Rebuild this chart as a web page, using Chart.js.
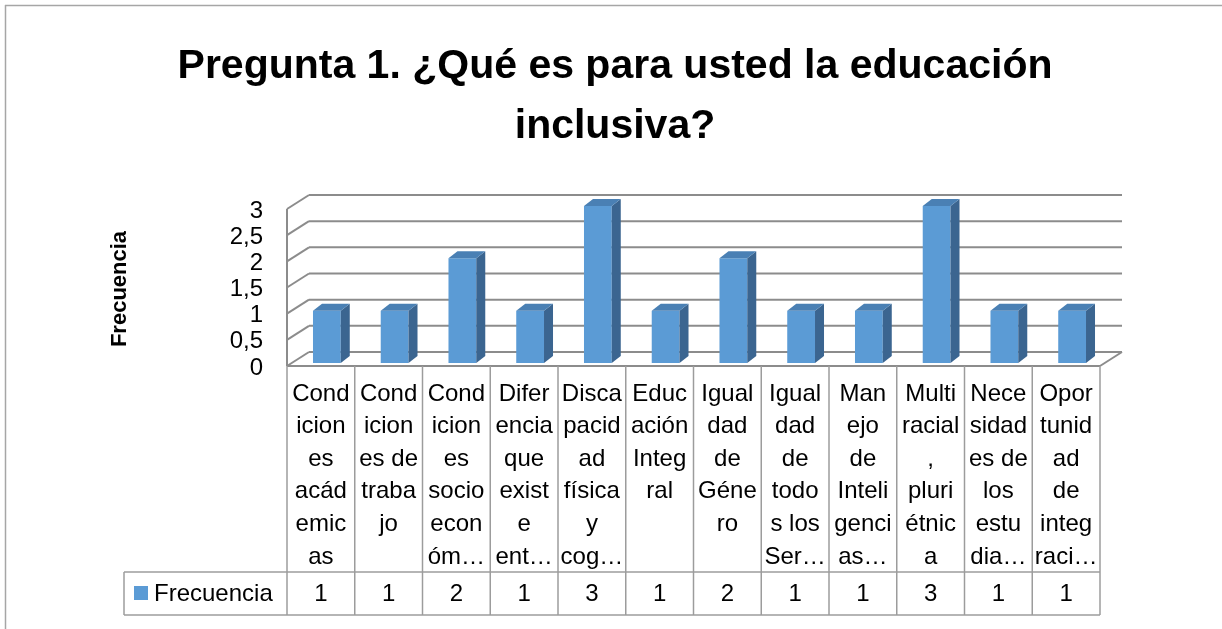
<!DOCTYPE html>
<html>
<head>
<meta charset="utf-8">
<script src="https://cdn.jsdelivr.net/npm/chart.js@4.4.1/dist/chart.umd.min.js"></script>
<style>
  html, body { margin: 0; padding: 0; background: #fff; }
  #wrap { width: 1222px; height: 629px; position: relative; }
</style>
</head>
<body>
<div id="wrap"><canvas id="chart" width="1222" height="629"></canvas></div>
<script>
// --- Data ---
const titleLines = ['Pregunta 1. ¿Qué es para usted la educación', 'inclusiva?'];
const seriesName = 'Frecuencia';
const yAxisTitle = 'Frecuencia';
const categories = [
    'Condiciones acádemicas', 'Condiciones de trabajo', 'Condiciones socioeconóm…',
    'Diferencia que existe ent…', 'Discapacidad física y cog…', 'Educación Integral',
    'Igualdad de Género', 'Igualdad de todos los Ser…', 'Manejo de Inteligencias…',
    'Multiracial, pluriétnica', 'Necesidades de los estudia…', 'Oportunidad de integraci…'
];
// wrapped tick labels as shown in the data table
const categoryLines = [
    ['Cond', 'icion', 'es', 'acád', 'emic', 'as'],
    ['Cond', 'icion', 'es de', 'traba', 'jo'],
    ['Cond', 'icion', 'es', 'socio', 'econ', 'óm…'],
    ['Difer', 'encia', 'que', 'exist', 'e', 'ent…'],
    ['Disca', 'pacid', 'ad', 'física', 'y', 'cog…'],
    ['Educ', 'ación', 'Integ', 'ral'],
    ['Igual', 'dad', 'de', 'Géne', 'ro'],
    ['Igual', 'dad', 'de', 'todo', 's los', 'Ser…'],
    ['Man', 'ejo', 'de', 'Inteli', 'genci', 'as…'],
    ['Multi', 'racial', ',', 'pluri', 'étnic', 'a'],
    ['Nece', 'sidad', 'es de', 'los', 'estu', 'dia…'],
    ['Opor', 'tunid', 'ad', 'de', 'integ', 'raci…']
];
const frecuencia = [1, 1, 2, 1, 3, 1, 2, 1, 1, 3, 1, 1];
const yTicks = [0, 0.5, 1, 1.5, 2, 2.5, 3];

// --- Look ---
const FONT = '"Liberation Sans", Arial, sans-serif';
const BLUE = '#5b9bd5';
const BLUE_TOP = '#4a80b4';
const BLUE_SIDE = '#3b6590';
const GRID = '#8c8c8c';
const TABLE_LINE = '#9c9c9c';
// 3D offsets relative to the bar plane
const FRONT = { dx: -6, dy: 3 };
const BACK = { dx: 16, dy: -11 };
const BAR_DEPTH = { dx: 9, dy: -7 };

function line(ctx, x1, y1, x2, y2) {
    ctx.beginPath();
    ctx.moveTo(x1, y1);
    ctx.lineTo(x2, y2);
    ctx.stroke();
}

const wallsPlugin = {
    id: 'walls',
    beforeDatasetsDraw(chart) {
        const { ctx, chartArea: a, scales: { y } } = chart;
        ctx.save();
        ctx.strokeStyle = GRID;
        ctx.lineWidth = 2;
        yTicks.forEach(v => {
            const py = y.getPixelForValue(v);
            line(ctx, a.left + BACK.dx, py + BACK.dy, a.right + BACK.dx, py + BACK.dy);
            line(ctx, a.left + FRONT.dx, py + FRONT.dy, a.left + BACK.dx, py + BACK.dy);
        });
        const y0 = y.getPixelForValue(0);
        const yTop = y.getPixelForValue(yTicks[yTicks.length - 1]);
        line(ctx, a.left + FRONT.dx, yTop + FRONT.dy, a.left + FRONT.dx, y0 + FRONT.dy);
        line(ctx, a.left + FRONT.dx, y0 + FRONT.dy, a.right + FRONT.dx, y0 + FRONT.dy);
        line(ctx, a.right + FRONT.dx, y0 + FRONT.dy, a.right + BACK.dx, y0 + BACK.dy);
        ctx.restore();
    },
    afterDatasetsDraw(chart) {
        const { ctx } = chart;
        const meta = chart.getDatasetMeta(0);
        ctx.save();
        meta.data.forEach(bar => {
            const { x, y, base, width } = bar.getProps(['x', 'y', 'base', 'width'], true);
            const l = x - width / 2, r = x + width / 2;
            // side face
            ctx.fillStyle = BLUE_SIDE;
            ctx.beginPath();
            ctx.moveTo(r, y);
            ctx.lineTo(r + BAR_DEPTH.dx, y + BAR_DEPTH.dy);
            ctx.lineTo(r + BAR_DEPTH.dx, base + BAR_DEPTH.dy);
            ctx.lineTo(r, base);
            ctx.closePath();
            ctx.fill();
            // top face
            ctx.fillStyle = BLUE_TOP;
            ctx.beginPath();
            ctx.moveTo(l, y);
            ctx.lineTo(l + BAR_DEPTH.dx, y + BAR_DEPTH.dy);
            ctx.lineTo(r + BAR_DEPTH.dx, y + BAR_DEPTH.dy);
            ctx.lineTo(r, y);
            ctx.closePath();
            ctx.fill();
        });
        ctx.restore();
    },
    afterDraw(chart) {
        const { ctx, chartArea: a, scales: { x, y } } = chart;
        ctx.save();

        // outer border
        ctx.strokeStyle = '#a6a6a6';
        ctx.lineWidth = 1.5;
        line(ctx, 5, 5.5, 1222, 5.5);
        line(ctx, 5.5, 5, 5.5, 629);

        // title
        ctx.fillStyle = '#000';
        ctx.textAlign = 'center';
        ctx.textBaseline = 'alphabetic';
        ctx.font = 'bold 41px ' + FONT;
        ctx.fillText(titleLines[0], 615, 78);
        ctx.fillText(titleLines[1], 615, 138);

        // y tick labels
        ctx.font = '24px ' + FONT;
        ctx.textAlign = 'right';
        ctx.textBaseline = 'middle';
        yTicks.forEach(v => {
            ctx.fillText(String(v).replace('.', ','), 263, y.getPixelForValue(v) + FRONT.dy + 2);
        });

        // y axis title
        ctx.save();
        ctx.translate(120, 289);
        ctx.rotate(-Math.PI / 2);
        ctx.textAlign = 'center';
        ctx.font = 'bold 22px ' + FONT;
        ctx.fillText(yAxisTitle, 0, 0);
        ctx.restore();

        // data table
        const y0 = y.getPixelForValue(0) + FRONT.dy;
        const tLeft = a.left + FRONT.dx;
        const tRight = a.right + FRONT.dx;
        const rowTop = 572, rowBottom = 615, legLeft = 124;
        const colW = (tRight - tLeft) / categories.length;
        ctx.strokeStyle = TABLE_LINE;
        ctx.lineWidth = 1.5;
        for (let i = 0; i <= categories.length; i++) {
            const cx = tLeft + i * colW;
            line(ctx, cx, y0, cx, rowBottom);
        }
        line(ctx, legLeft, rowTop, tRight, rowTop);
        line(ctx, legLeft, rowBottom, tRight, rowBottom);
        line(ctx, legLeft, rowTop, legLeft, rowBottom);

        ctx.fillStyle = '#000';
        ctx.textAlign = 'center';
        ctx.textBaseline = 'middle';
        ctx.font = '24px ' + FONT;
        categoryLines.forEach((lines, i) => {
            const cx = x.getPixelForValue(i) + FRONT.dx;
            lines.forEach((t, k) => ctx.fillText(t, cx, 394 + k * 32.6));
            ctx.fillText(String(frecuencia[i]), cx, 594);
        });

        // legend key
        ctx.fillStyle = BLUE;
        ctx.fillRect(134, 586, 14, 14);
        ctx.fillStyle = '#000';
        ctx.textAlign = 'left';
        ctx.fillText(seriesName, 154, 594);

        ctx.restore();
    }
};

const ctx = document.getElementById('chart').getContext('2d');
new Chart(ctx, {
    type: 'bar',
    data: {
        labels: categories,
        datasets: [{
            label: seriesName,
            data: frecuencia,
            backgroundColor: BLUE,
            borderWidth: 0,
            categoryPercentage: 1,
            barPercentage: 0.41
        }]
    },
    options: {
        responsive: false,
        animation: false,
        layout: { padding: { left: 293, right: 116, top: 206, bottom: 266 } },
        scales: {
            x: { display: false, offset: true },
            y: { display: false, min: 0, max: 3 }
        },
        plugins: {
            legend: { display: false },
            title: { display: false },
            tooltip: { enabled: false }
        }
    },
    plugins: [wallsPlugin]
});
</script>
</body>
</html>
